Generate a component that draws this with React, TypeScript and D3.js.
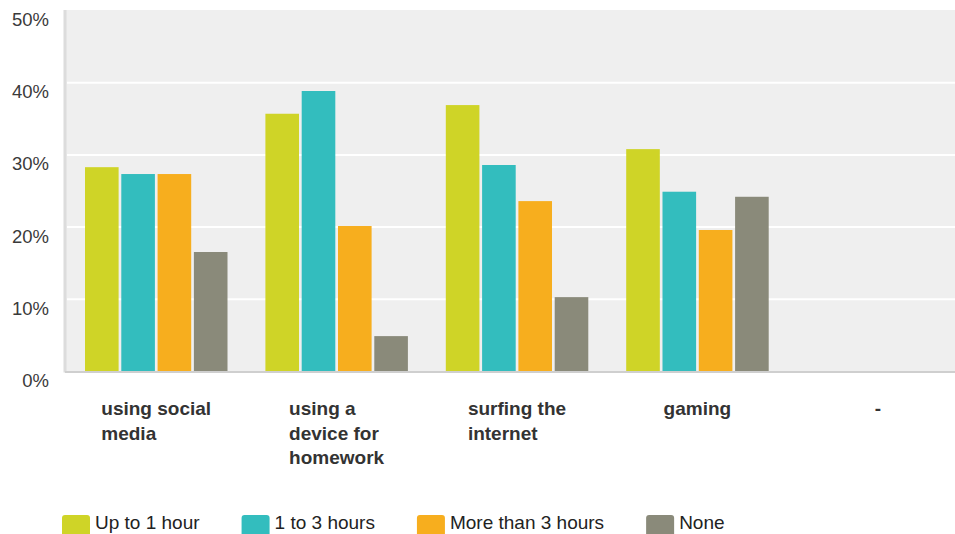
import React, { useEffect, useRef } from "react";
import * as d3 from "d3";

const categories = ["using social media", "using a device for homework", "surfing the internet", "gaming", "-"];
const seriesNames = ["Up to 1 hour", "1 to 3 hours", "More than 3 hours", "None"];
const upTo1Hour = [28.3, 35.7, 36.9, 30.8, 0];
const oneTo3Hours = [27.35, 38.85, 28.6, 24.9, 0];
const moreThan3Hours = [27.35, 20.15, 23.6, 19.6, 0];
const none = [16.55, 4.9, 10.3, 24.2, 0];
const yTicks = [0, 10, 20, 30, 40, 50];
const colors = ["#CFD427", "#33BDBE", "#F7AE1E", "#8A8A7A"];

const W = 955;
const H = 534;
const FONT = "'Liberation Sans', Arial, sans-serif";

export default function App() {
  const ref = useRef<SVGSVGElement | null>(null);

  useEffect(() => {
    const svg = d3.select(ref.current);
    svg.selectAll("*").remove();
    const series = [upTo1Hour, oneTo3Hours, moreThan3Hours, none];

    const plotLeft = 65;
    const plotTop = 10;
    const y = d3.scaleLinear().domain([0, 50]).range([371.5, 10.5]);
    const x0 = d3.scaleBand<string>().domain(categories).range([66, 968]).padding(0);
    const x1 = d3.scaleBand<string>().domain(seriesNames).range([19, 161.5]).paddingInner(0.074).paddingOuter(0);

    svg.append("rect").attr("x", plotLeft).attr("y", plotTop).attr("width", W - plotLeft).attr("height", y(0) - plotTop + 1).attr("fill", "#EFEFEF");
    svg.append("rect").attr("x", 63.5).attr("y", plotTop).attr("width", 3).attr("height", y(0) - plotTop + 1).attr("fill", "#DCDCDC");

    svg.append("g").selectAll("line").data(yTicks.filter((t) => t > 0 && t < 50)).join("line")
      .attr("x1", 67).attr("x2", W).attr("y1", (d) => y(d)).attr("y2", (d) => y(d))
      .attr("stroke", "#FFFFFF").attr("stroke-width", 2);

    svg.append("g").selectAll("text").data(yTicks).join("text")
      .attr("x", 49).attr("y", (d) => y(d) + 15.5)
      .attr("text-anchor", "end")
      .attr("font-family", FONT).attr("font-size", 18.5).attr("fill", "#3A3A3A")
      .text((d) => `${d}%`);

    const g = svg.append("g");
    categories.forEach((c, ci) => {
      seriesNames.forEach((s, si) => {
        const v = series[si][ci];
        if (v <= 0) return;
        g.append("rect")
          .attr("x", (x0(c) as number) + (x1(s) as number))
          .attr("y", y(v))
          .attr("width", x1.bandwidth())
          .attr("height", y(0) - y(v))
          .attr("fill", colors[si]);
      });
    });

    svg.append("line").attr("x1", 65).attr("x2", W).attr("y1", y(0) + 0.5).attr("y2", y(0) + 0.5)
      .attr("stroke", "#CFCFCF").attr("stroke-width", 2);

    const wrapWidth = 120;
    const lineH = 24.5;
    categories.forEach((c) => {
      const t = svg.append("text").attr("font-family", FONT).attr("font-size", 19).attr("font-weight", "bold").attr("fill", "#333333");
      const words = c.split(" ");
      const lines: string[] = [];
      let cur = "";
      const probe = t.append("tspan");
      words.forEach((w) => {
        const test = cur ? cur + " " + w : w;
        probe.text(test);
        const len = (probe.node() as SVGTSpanElement).getComputedTextLength();
        if (len > wrapWidth && cur) {
          lines.push(cur);
          cur = w;
        } else {
          cur = test;
        }
      });
      lines.push(cur);
      probe.remove();
      let maxW = 0;
      lines.forEach((l) => {
        const p = t.append("tspan").text(l);
        maxW = Math.max(maxW, (p.node() as SVGTSpanElement).getComputedTextLength());
        p.remove();
      });
      const cx = (x0(c) as number) + x0.bandwidth() / 2;
      const left = cx - maxW / 2;
      lines.forEach((l, i) => {
        t.append("tspan").attr("x", left).attr("y", 415 + i * lineH).text(l);
      });
    });

    const legend = svg.append("g");
    let lx = 62;
    seriesNames.forEach((s, i) => {
      legend.append("rect").attr("x", lx).attr("y", 515).attr("width", 28).attr("height", 24).attr("rx", 3).attr("fill", colors[i]);
      const tx = legend.append("text").attr("x", lx + 33).attr("y", 529)
        .attr("font-family", FONT).attr("font-size", 19).attr("fill", "#222222").text(s);
      const len = (tx.node() as SVGTextElement).getComputedTextLength();
      lx = lx + 33 + len + 42;
    });
  }, []);

  return (
    <svg
      ref={ref}
      width={W}
      height={H}
      style={{ position: "absolute", left: 0, top: 0, background: "#FFFFFF" }}
    />
  );
}
